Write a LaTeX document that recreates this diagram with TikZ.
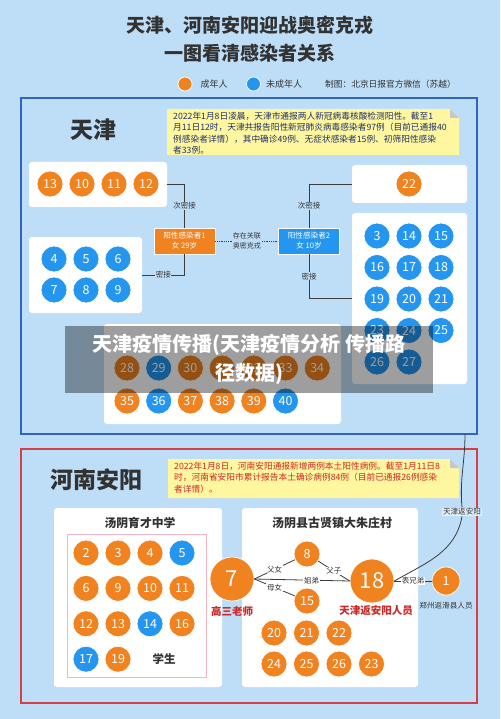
\documentclass[tikz,border=0pt]{standalone}
\usepackage{fontspec}
\setmainfont{Noto Sans CJK SC}
\usetikzlibrary{positioning,calc}

\definecolor{bgblue}{RGB}{190,222,247}
\definecolor{adultc}{RGB}{240,130,32}
\definecolor{minorc}{RGB}{36,150,240}
\definecolor{tjline}{RGB}{48,100,190}
\definecolor{hnline}{RGB}{214,62,72}
\definecolor{notey}{RGB}{255,246,160}
\definecolor{darktxt}{RGB}{50,50,50}
\definecolor{navytxt}{RGB}{30,50,105}
\definecolor{redtxt}{RGB}{205,40,40}
\definecolor{linkc}{RGB}{60,60,60}
\definecolor{pinkline}{RGB}{244,182,194}

\tikzset{
  dot/.style={circle,draw=white,line width=0.7pt,minimum size=26pt,inner sep=0pt,text=white,font=\fontsize{12.5}{12.5}\selectfont},
  adult/.style={dot,fill=adultc},
  minor/.style={dot,fill=minorc},
  bigdot/.style={adult,minimum size=44pt,font=\fontsize{22}{22}\selectfont},
  panel/.style={fill=white,rounded corners=3pt,inner sep=0pt},
  case/.style={minimum width=61pt,minimum height=26pt,inner sep=0pt,text=white,align=center,font=\fontsize{7.6}{10}\selectfont,draw=white,line width=0.5pt},
  tag/.style={fill=bgblue,inner sep=0.6pt,font=\fontsize{7.5}{9}\selectfont,text=darktxt},
  wtag/.style={tag,fill=white},
  link/.style={draw=linkc,line width=0.8pt},
  notetext/.style={anchor=north west,align=left,inner sep=0pt,font=\fontsize{8.7}{11.5}\selectfont},
}

\begin{document}
\begin{tikzpicture}[x=1pt,y=-1pt]
  \useasboundingbox (0,0) rectangle (500,719);
  \fill[bgblue] (0,0) rectangle (500,719);

  \node[font=\bfseries\fontsize{19}{28}\selectfont,text=darktxt,align=center] (title) at (250,39)
    {天津、河南安阳迎战奥密克戎\\一图看清感染者关系};

  \node[adult,minimum size=14pt] (lgA) at (185,84) {};
  \node[right=8pt of lgA,inner sep=0pt,font=\fontsize{9}{9}\selectfont,text=darktxt] (lgAt) {成年人};
  \node[minor,minimum size=14pt] (lgB) at (253.5,84) {};
  \node[right=5pt of lgB,inner sep=0pt,font=\fontsize{9}{9}\selectfont,text=darktxt] (lgBt) {未成年人};
  \node[anchor=west,inner sep=0pt,font=\fontsize{8.7}{9}\selectfont,text=darktxt] (credit) at (325,84) {制图：北京日报官方微信（苏越）};

  % Tianjin
  \node[draw=tjline,line width=1.2pt,minimum width=456pt,minimum height=336pt,inner sep=0pt] (tj) at (249,266) {};
  \node[font=\bfseries\fontsize{23}{23}\selectfont,text=darktxt] (tjname) at (93,130) {天津};
  \fill[notey] (167,109) -- (450,109) -- (459,118) -- (459,155) -- (167,155) -- cycle;
  \fill[black!22] (450,109) -- (450,118) -- (459,118) -- cycle;
  \node[notetext,text=navytxt] (tjnote) at (173,111.5)
    {2022年1月8日凌晨，天津市通报两人新冠病毒核酸检测阳性。截至1\\
     月11日12时，天津共报告阳性新冠肺炎病毒感染者97例（目前已通报40\\
     例感染者详情），其中确诊49例、无症状感染者15例、初筛阳性感染\\
     者33例。};

  \node[panel,minimum width=138pt,minimum height=45pt] (tjA) at (98,184.5) {};
  \node[panel,minimum width=113pt,minimum height=76pt] (tjB) at (85.5,275) {};
  \node[panel,minimum width=115pt,minimum height=38pt] (tjC) at (409.5,184) {};
  \node[panel,minimum width=115pt,minimum height=171pt] (tjD) at (409.5,298.5) {};
  \node[panel,minimum width=237pt,minimum height=100pt] (tjE) at (222.5,374) {};

  \foreach \n [count=\i from 0] in {13,10,11,12}
    \node[adult] (tj\n) at (50+32*\i,184) {\n};
  \foreach \n [count=\i from 0] in {4,...,9}{
    \pgfmathsetmacro{\cx}{54+32*mod(\i,3)}
    \pgfmathsetmacro{\cy}{259+31*int(\i/3)}
    \node[minor] (tj\n) at (\cx,\cy) {\n};
  }
  \node[adult] (tj22) at (409,184) {22};
  \foreach \n [count=\i from 0] in {3,14,15,16,17,18,19,20,21,23,24,25,26,27}{
    \pgfmathsetmacro{\cx}{377+32*mod(\i,3)}
    \pgfmathsetmacro{\cy}{236+31.5*int(\i/3)}
    \node[minor] (tj\n) at (\cx,\cy) {\n};
  }
  \foreach \n/\s [count=\i from 0] in {28/adult,29/minor,30/adult,31/adult,32/adult,33/adult,34/adult}
    \node[\s] (tj\n) at (127+31.7*\i,368) {\n};
  \foreach \n/\s [count=\i from 0] in {35/adult,36/minor,37/adult,38/adult,39/adult,40/minor}
    \node[\s] (tj\n) at (127+31.7*\i,401) {\n};

  \node[case,fill=adultc] (p1) at (184.5,241) {阳性感染者1\\女\ 29岁};
  \node[case,fill=minorc] (p2) at (309,241) {阳性感染者2\\女\ 10岁};
  \draw[link] (tjA.east) -| node[tag,pos=0.75] {次密接} (p1.north);
  \draw[link] (p1.south) |- node[tag,pos=0.75] {密接} (tjB.east);
  \draw[link] (p2.north) |- node[tag,pos=0.25] {次密接} (tjC.west);
  \draw[link] (p2.south) |- node[tag,pos=0.25] {密接} (tjD.west);
  \draw[link,densely dotted] (p1) -- node[tag,align=center,font=\fontsize{7}{9.5}\selectfont] {存在关联\\奥密克戎} (p2);

  \node[fill=black,fill opacity=0.38,text opacity=1,text=white,minimum width=368pt,minimum height=67pt,
        align=center,font=\bfseries\fontsize{20}{29}\selectfont] (wm) at (249,359.5)
    {天津疫情传播(天津疫情分析 传播路\\径数据)};

  % Henan Anyang
  \node[draw=hnline,line width=1.2pt,minimum width=456pt,minimum height=254pt,inner sep=0pt] (hn) at (249,576) {};
  \node[font=\bfseries\fontsize{23}{23}\selectfont,text=darktxt] (hnname) at (96.5,480) {河南安阳};
  \fill[notey] (168,459) -- (450,459) -- (459,468) -- (459,498) -- (168,498) -- cycle;
  \fill[black!22] (450,459) -- (450,468) -- (459,468) -- cycle;
  \node[notetext,text=redtxt] (hnnote) at (174,461.5)
    {2022年1月8日，河南安阳通报新增两例本土阳性病例。截至1月11日8\\
     时，河南省安阳市累计报告本土确诊病例84例（目前已通报26例感染\\
     者详情）。};

  \node[panel,minimum width=168pt,minimum height=179pt] (hnA) at (138,597.5) {};
  \node[panel,minimum width=176pt,minimum height=179pt] (hnB) at (330,597.5) {};
  \node[draw=pinkline,line width=0.7pt,minimum width=139pt,minimum height=143pt,inner sep=0pt] (hnC) at (136.5,605.5) {};
  \node[font=\bfseries\fontsize{11.8}{12}\selectfont,text=darktxt] (hnAt) at (140,523) {汤阴育才中学};
  \node[font=\bfseries\fontsize{12}{12}\selectfont,text=darktxt] (hnBt) at (332,523) {汤阴县古贤镇大朱庄村};

  \foreach \n/\s [count=\i from 0] in {2/adult,3/adult,4/adult,5/minor,6/adult,9/adult,10/adult,11/adult,
                                        12/adult,13/adult,14/minor,16/adult,17/minor,19/adult}{
    \pgfmathsetmacro{\cx}{86+32*mod(\i,4)}
    \pgfmathsetmacro{\cy}{553+35.4*int(\i/4)}
    \node[\s] (hn\n) at (\cx,\cy) {\n};
  }
  \node[font=\bfseries\fontsize{11.5}{12}\selectfont,text=darktxt] (pupil) at (164,659) {学生};

  \foreach \n [count=\i from 0] in {20,21,22}
    \node[adult] (hn\n) at (274+32.5*\i,633) {\n};
  \foreach \n [count=\i from 0] in {24,25,26,23}
    \node[adult] (hn\n) at (274+32.5*\i,664) {\n};

  \node[bigdot] (h7) at (232,579) {7};
  \node[adult] (h8) at (307,554) {8};
  \node[adult] (h15) at (307,601) {15};
  \node[bigdot] (h18) at (372,581) {18};
  \node[adult,minimum size=28pt] (h1) at (446,581) {1};
  \node[font=\bfseries\fontsize{10.5}{11}\selectfont,text=redtxt] (t7) at (232,611) {高三老师};
  \node[font=\bfseries\fontsize{10.5}{11}\selectfont,text=redtxt] (t18) at (376,611) {天津返安阳人员};
  \node[font=\fontsize{7.6}{8}\selectfont,text=darktxt] (t1) at (446,606) {郑州返滑县人员};

  \draw[link] (h7.east) -- node[wtag] {父女} (h8);
  \draw[link] (h7.east) -- node[wtag] {母女} (h15);
  \draw[link] (h7.east) -- node[wtag,pos=0.6] {姐弟} (h18.west);
  \draw[link] (h8) -- node[wtag] {父子} (h18.west);
  \draw[link] (h18.east) -- node[wtag] {表兄弟} (h1.west);

  \coordinate (tjout) at (465,434);
  \node[tag,fill=white!55!bgblue,font=\fontsize{7.6}{9}\selectfont] (ret) at (462,512) {天津返安阳};
  \draw[link] (tjout) to[out=-90,in=95] (ret.north);
  \draw[link] (ret.south) to[out=-100,in=30] (h18.east);
\end{tikzpicture}
\end{document}
